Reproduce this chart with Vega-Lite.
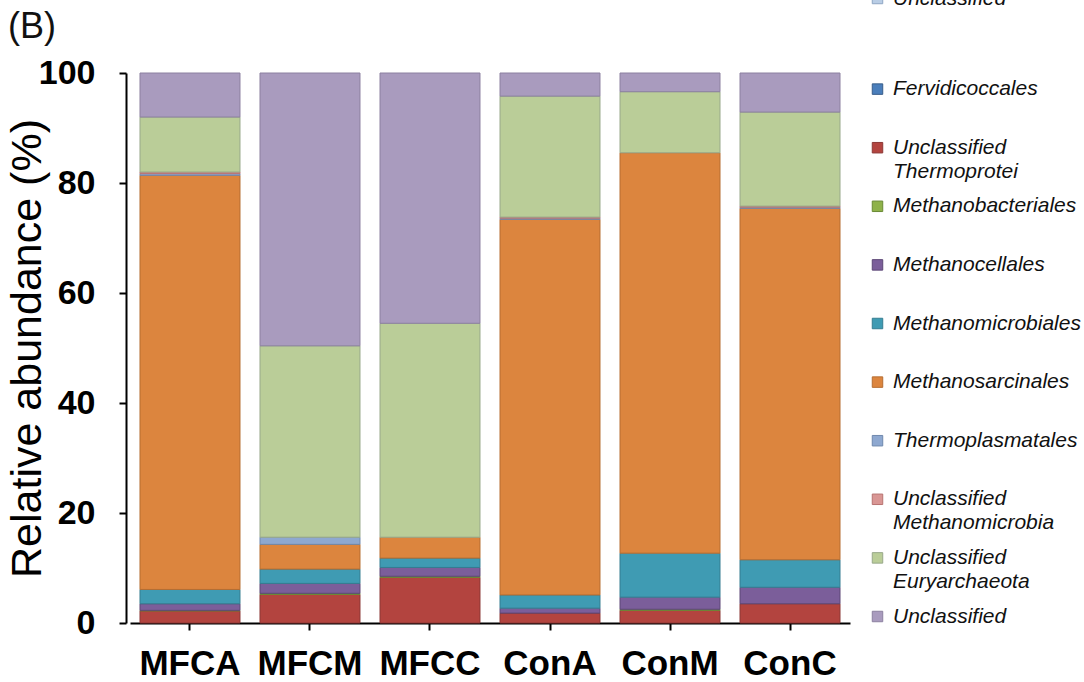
{
  "$schema": "https://vega.github.io/schema/vega-lite/v6.json",
  "width": 720,
  "height": 550,
  "autosize": {"type": "none"},
  "padding": {"left": 130, "top": 73, "right": 234, "bottom": 59},
  "background": "white",
  "title": {
    "text": "(B)",
    "anchor": "start",
    "frame": "group",
    "dx": -122,
    "dy": 58,
    "offset": 0,
    "font": "Liberation Sans",
    "fontSize": 36,
    "fontWeight": "normal",
    "color": "#111"
  },
  "datasets": {
    "taxa": [
      {"taxon": "Unclassified_a", "rank": 0},
      {"taxon": "Fervidicoccales", "rank": 1},
      {"taxon": "Unclassified Thermoprotei", "rank": 2},
      {"taxon": "Methanobacteriales", "rank": 3},
      {"taxon": "Methanocellales", "rank": 4},
      {"taxon": "Methanomicrobiales", "rank": 5},
      {"taxon": "Methanosarcinales", "rank": 6},
      {"taxon": "Thermoplasmatales", "rank": 7},
      {"taxon": "Unclassified Methanomicrobia", "rank": 8},
      {"taxon": "Unclassified Euryarchaeota", "rank": 9},
      {"taxon": "Unclassified", "rank": 10}
    ],
    "abundance": [
      {"sample": "MFCA", "taxon": "Unclassified Thermoprotei", "value": 2.2},
      {"sample": "MFCA", "taxon": "Methanobacteriales", "value": 0.1},
      {"sample": "MFCA", "taxon": "Methanocellales", "value": 1.2},
      {"sample": "MFCA", "taxon": "Methanomicrobiales", "value": 2.6},
      {"sample": "MFCA", "taxon": "Methanosarcinales", "value": 75.3},
      {"sample": "MFCA", "taxon": "Thermoplasmatales", "value": 0.3},
      {"sample": "MFCA", "taxon": "Unclassified Methanomicrobia", "value": 0.3},
      {"sample": "MFCA", "taxon": "Unclassified Euryarchaeota", "value": 10.0},
      {"sample": "MFCA", "taxon": "Unclassified", "value": 8.0},

      {"sample": "MFCM", "taxon": "Unclassified Thermoprotei", "value": 5.2},
      {"sample": "MFCM", "taxon": "Methanobacteriales", "value": 0.2},
      {"sample": "MFCM", "taxon": "Methanocellales", "value": 1.8},
      {"sample": "MFCM", "taxon": "Methanomicrobiales", "value": 2.6},
      {"sample": "MFCM", "taxon": "Methanosarcinales", "value": 4.5},
      {"sample": "MFCM", "taxon": "Thermoplasmatales", "value": 1.3},
      {"sample": "MFCM", "taxon": "Unclassified Euryarchaeota", "value": 34.8},
      {"sample": "MFCM", "taxon": "Unclassified", "value": 49.6},

      {"sample": "MFCC", "taxon": "Unclassified Thermoprotei", "value": 8.3},
      {"sample": "MFCC", "taxon": "Methanobacteriales", "value": 0.2},
      {"sample": "MFCC", "taxon": "Methanocellales", "value": 1.6},
      {"sample": "MFCC", "taxon": "Methanomicrobiales", "value": 1.7},
      {"sample": "MFCC", "taxon": "Methanosarcinales", "value": 3.8},
      {"sample": "MFCC", "taxon": "Unclassified Euryarchaeota", "value": 38.9},
      {"sample": "MFCC", "taxon": "Unclassified", "value": 45.5},

      {"sample": "ConA", "taxon": "Unclassified Thermoprotei", "value": 1.8},
      {"sample": "ConA", "taxon": "Methanocellales", "value": 0.9},
      {"sample": "ConA", "taxon": "Methanomicrobiales", "value": 2.4},
      {"sample": "ConA", "taxon": "Methanosarcinales", "value": 68.3},
      {"sample": "ConA", "taxon": "Thermoplasmatales", "value": 0.2},
      {"sample": "ConA", "taxon": "Unclassified Methanomicrobia", "value": 0.2},
      {"sample": "ConA", "taxon": "Unclassified Euryarchaeota", "value": 22.0},
      {"sample": "ConA", "taxon": "Unclassified", "value": 4.2},

      {"sample": "ConM", "taxon": "Unclassified Thermoprotei", "value": 2.3},
      {"sample": "ConM", "taxon": "Methanobacteriales", "value": 0.2},
      {"sample": "ConM", "taxon": "Methanocellales", "value": 2.2},
      {"sample": "ConM", "taxon": "Methanomicrobiales", "value": 8.0},
      {"sample": "ConM", "taxon": "Methanosarcinales", "value": 72.8},
      {"sample": "ConM", "taxon": "Unclassified Euryarchaeota", "value": 11.1},
      {"sample": "ConM", "taxon": "Unclassified", "value": 3.4},

      {"sample": "ConC", "taxon": "Unclassified Thermoprotei", "value": 3.5},
      {"sample": "ConC", "taxon": "Methanocellales", "value": 3.0},
      {"sample": "ConC", "taxon": "Methanomicrobiales", "value": 5.0},
      {"sample": "ConC", "taxon": "Methanosarcinales", "value": 63.9},
      {"sample": "ConC", "taxon": "Thermoplasmatales", "value": 0.2},
      {"sample": "ConC", "taxon": "Unclassified Methanomicrobia", "value": 0.2},
      {"sample": "ConC", "taxon": "Unclassified Euryarchaeota", "value": 17.1},
      {"sample": "ConC", "taxon": "Unclassified", "value": 7.1}
    ]
  },
  "data": {"name": "abundance"},
  "transform": [
    {"lookup": "taxon", "from": {"data": {"name": "taxa"}, "key": "taxon", "fields": ["rank"]}}
  ],
  "mark": {"type": "bar", "strokeWidth": 1},
  "encoding": {
    "x": {
      "field": "sample",
      "type": "nominal",
      "sort": ["MFCA", "MFCM", "MFCC", "ConA", "ConM", "ConC"],
      "scale": {"paddingInner": 0.1667, "paddingOuter": 0.0833},
      "axis": {
        "title": null,
        "labelAngle": 0,
        "labelFont": "Liberation Sans",
        "labelFontSize": 35,
        "labelFontWeight": "bold",
        "labelColor": "#000",
        "labelPadding": 16,
        "tickSize": 7,
        "tickColor": "#000",
        "tickWidth": 2,
        "domainColor": "#000",
        "domainWidth": 2,
        "grid": false
      }
    },
    "y": {
      "field": "value",
      "type": "quantitative",
      "stack": "zero",
      "scale": {"domain": [0, 100], "nice": false},
      "axis": {
        "title": "Relative abundance (%)",
        "titleFont": "Liberation Sans",
        "titleFontSize": 43,
        "titleFontWeight": "normal",
        "titleColor": "#000",
        "titlePadding": -11,
        "values": [0, 20, 40, 60, 80, 100],
        "labelFont": "Liberation Sans",
        "labelFontSize": 34,
        "labelFontWeight": "bold",
        "labelColor": "#000",
        "labelPadding": 24,
        "tickSize": 7,
        "tickColor": "#000",
        "tickWidth": 2,
        "domainColor": "#000",
        "domainWidth": 2,
        "offset": 4,
        "grid": false
      }
    },
    "order": {"field": "rank", "type": "quantitative", "sort": "ascending"},
    "fill": {
      "field": "taxon",
      "type": "nominal",
      "sort": [
        "Unclassified_a", "Fervidicoccales", "Unclassified Thermoprotei", "Methanobacteriales",
        "Methanocellales", "Methanomicrobiales", "Methanosarcinales", "Thermoplasmatales",
        "Unclassified Methanomicrobia", "Unclassified Euryarchaeota", "Unclassified"
      ],
      "scale": {
        "domain": [
          "Unclassified_a", "Fervidicoccales", "Unclassified Thermoprotei", "Methanobacteriales",
          "Methanocellales", "Methanomicrobiales", "Methanosarcinales", "Thermoplasmatales",
          "Unclassified Methanomicrobia", "Unclassified Euryarchaeota", "Unclassified"
        ],
        "range": [
          "#b9cde5", "#4a7ebb", "#b3443f", "#8fb24a",
          "#7b5e9a", "#3f9bb3", "#dc853e", "#8ea8d0",
          "#d99694", "#bacd98", "#a99bbe"
        ]
      },
      "legend": {
        "title": null,
        "orient": "none",
        "legendX": 737,
        "legendY": -85,
        "symbolType": "square",
        "symbolSize": 110,
        "symbolStrokeWidth": 1,
        "symbolStrokeColor": "#444",
        "labelFont": "Liberation Sans",
        "labelFontSize": 21,
        "labelFontStyle": "italic",
        "labelColor": "#111",
        "labelOffset": 5,
        "labelLimit": 300,
        "labelBaseline": "top",
        "rowPadding": 12.6,
        "labelExpr": "datum.value == 'Unclassified_a' ? ['Unclassified', '', ''] : (indexof(datum.value, 'Unclassified ') == 0 ? ['Unclassified', substring(datum.value, 13)] : [datum.value, ''])",
        "encode": {
          "labels": {"update": {"lineHeight": {"signal": "datum.value == 'Unclassified_a' ? 28 : 24"}, "dy": {"value": -11}}},
          "symbols": {"update": {"stroke": {"value": "#444"}, "strokeWidth": {"value": 1}}}
        }
      }
    },
    "stroke": {
      "field": "taxon",
      "type": "nominal",
      "scale": {
        "domain": [
          "Unclassified_a", "Fervidicoccales", "Unclassified Thermoprotei", "Methanobacteriales",
          "Methanocellales", "Methanomicrobiales", "Methanosarcinales", "Thermoplasmatales",
          "Unclassified Methanomicrobia", "Unclassified Euryarchaeota", "Unclassified"
        ],
        "range": [
          "#8fa6c4", "#385d8a", "#8c3836", "#6a8a35",
          "#5c4776", "#357d91", "#b66d31", "#6f88ad",
          "#b77371", "#98a88a", "#8c80a0"
        ]
      },
      "legend": null
    }
  },
  "config": {
    "view": {"stroke": null}
  }
}
